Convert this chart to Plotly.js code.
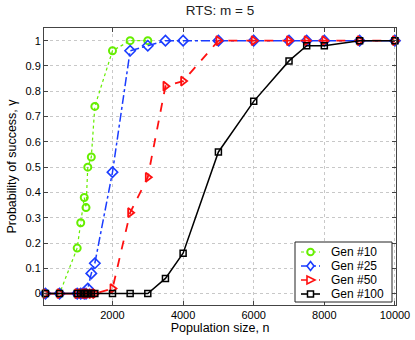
<!DOCTYPE html>
<html>
<head>
<meta charset="utf-8">
<script src="https://cdn.plot.ly/plotly-3.0.1.min.js"></script>
<style>html,body{margin:0;padding:0;background:#fff;}#chart{width:415px;height:340px;}</style>
</head>
<body>
<div id="chart"></div>
<script>
const popSize = [100, 500, 1000, 1100, 1200, 1250, 1300, 1400, 1500, 2000, 2500, 3000, 3500, 4000, 5000, 6000, 7000, 7500, 8000, 9000, 10000];
const gen10Size = [100, 500, 1000, 1100, 1200, 1250, 1300, 1400, 1500, 2000, 2500, 3000];
const gen10 = [0, 0, 0.18, 0.28, 0.38, 0.34, 0.50, 0.54, 0.74, 0.96, 1, 1];
const gen25 = [0, 0, 0, 0, 0, 0, 0.02, 0.08, 0.12, 0.48, 0.96, 0.98, 1, 1, 1, 1, 1, 1, 1, 1, 1];
const gen50 = [0, 0, 0, 0, 0, 0, 0, 0, 0, 0.02, 0.32, 0.46, 0.82, 0.84, 1, 1, 1, 1, 1, 1, 1];
const gen100 = [0, 0, 0, 0, 0, 0, 0, 0, 0, 0, 0, 0, 0.06, 0.16, 0.56, 0.76, 0.92, 0.98, 0.98, 1, 1];
const seriesNames = ['Gen #10', 'Gen #25', 'Gen #50', 'Gen #100'];
const xTicks = [2000, 4000, 6000, 8000, 10000];
const yTicks = [0, 0.1, 0.2, 0.3, 0.4, 0.5, 0.6, 0.7, 0.8, 0.9, 1];
const yTickText = ['0', '0.1', '0.2', '0.3', '0.4', '0.5', '0.6', '0.7', '0.8', '0.9', '1'];

const FONT = 'Liberation Sans, Arial, Helvetica, sans-serif';
const colors = ['#66ee00', '#1a3cff', '#ff1010', '#000000'];
const dashes = ['dot', 'dashdot', 'dash', 'solid'];
const traces = [
  {x: gen10Size, y: gen10, name: seriesNames[0], mode: 'lines+markers',
   line: {color: colors[0], width: 1.2, dash: dashes[0]},
   marker: {symbol: 'circle-open', size: 7, color: colors[0], line: {width: 2}}},
  {x: popSize, y: gen25, name: seriesNames[1], mode: 'lines+markers',
   line: {color: colors[1], width: 1.5, dash: dashes[1]},
   marker: {symbol: 'diamond-open', size: 8, color: colors[1], line: {width: 1.6}}},
  {x: popSize, y: gen50, name: seriesNames[2], mode: 'lines+markers',
   line: {color: colors[2], width: 1.8, dash: dashes[2]},
   marker: {symbol: 'triangle-right-open', size: 8, color: colors[2], line: {width: 1.8}}},
  {x: popSize, y: gen100, name: seriesNames[3], mode: 'lines+markers',
   line: {color: colors[3], width: 1.5, dash: dashes[3]},
   marker: {symbol: 'square-open', size: 6, color: colors[3], line: {width: 1.5}}}
];
traces.forEach(t => { t.cliponaxis = false; t.showlegend = false; });

// Manual legend (MATLAB-like compact box), positioned in pixels of the 415x340 figure
const M = {l: 44, r: 19, t: 28, b: 35};
const PW = 415 - M.l - M.r, PH = 340 - M.t - M.b;
const px = v => (v - M.l) / PW;
const py = v => (340 - M.b - v) / PH;
const shapes = [];
const annotations = [];
shapes.push({type: 'rect', xref: 'paper', yref: 'paper', x0: px(295), x1: px(392), y0: py(302), y1: py(242),
  line: {color: '#222', width: 1}, fillcolor: '#ffffff', layer: 'above'});
const rowY = [252, 266, 280, 294];
seriesNames.forEach((name, i) => {
  const yy = rowY[i];
  shapes.push({type: 'line', xref: 'paper', yref: 'paper', x0: px(301), x1: px(320), y0: py(yy), y1: py(yy),
    line: {color: colors[i], width: i === 0 ? 1.2 : 1.6, dash: dashes[i]}, layer: 'above'});
  const cx = 310.5, r = 3.3;
  let mk;
  if (i === 0) {
    mk = {type: 'circle', x0: px(cx - r), x1: px(cx + r), y0: py(yy + r), y1: py(yy - r), line: {color: colors[i], width: 2}};
  } else if (i === 1) {
    mk = {type: 'path', path: `M ${px(cx)} ${py(yy - 4.5)} L ${px(cx + 3.5)} ${py(yy)} L ${px(cx)} ${py(yy + 4.5)} L ${px(cx - 3.5)} ${py(yy)} Z`, line: {color: colors[i], width: 1.6}};
  } else if (i === 2) {
    mk = {type: 'path', path: `M ${px(cx + 4.5)} ${py(yy)} L ${px(cx - 3.5)} ${py(yy - 4)} L ${px(cx - 3.5)} ${py(yy + 4)} Z`, line: {color: colors[i], width: 1.6}};
  } else {
    mk = {type: 'rect', x0: px(cx - 3), x1: px(cx + 3), y0: py(yy + 3), y1: py(yy - 3), line: {color: colors[i], width: 1.5}};
  }
  Object.assign(mk, {xref: 'paper', yref: 'paper', fillcolor: '#ffffff', layer: 'above'});
  shapes.push(mk);
  annotations.push({xref: 'paper', yref: 'paper', x: px(329), y: py(yy), xanchor: 'left', yanchor: 'middle',
    text: name, showarrow: false, font: {family: FONT, size: 12, color: '#000'}});
});

const layout = {
  width: 415, height: 340,
  margin: M,
  paper_bgcolor: '#ffffff', plot_bgcolor: '#ffffff',
  font: {family: FONT, size: 11, color: '#000'},
  title: {text: 'RTS: m = 5', font: {family: FONT, size: 13.5, color: '#222'}, xref: 'paper', x: 0.5, xanchor: 'center', y: 0.985, yanchor: 'top'},
  xaxis: {
    range: [60, 10030], tickvals: xTicks, ticktext: xTicks.map(String),
    showgrid: true, gridcolor: '#c8c8c8', griddash: 'dot', gridwidth: 1,
    zeroline: false, showline: true, linecolor: '#444', linewidth: 1, mirror: 'ticks',
    ticks: 'inside', ticklen: 4, tickcolor: '#444',
    tickfont: {family: FONT, size: 11},
    title: {text: 'Population size, n', font: {family: FONT, size: 12.5}, standoff: 2}
  },
  yaxis: {
    range: [-0.045, 1.05], tickvals: yTicks, ticktext: yTickText,
    showgrid: true, gridcolor: '#c8c8c8', griddash: 'dot', gridwidth: 1,
    zeroline: false, showline: true, linecolor: '#444', linewidth: 1, mirror: 'ticks',
    ticks: 'inside', ticklen: 4, tickcolor: '#444',
    tickfont: {family: FONT, size: 11},
    title: {text: 'Probability of success, γ', font: {family: FONT, size: 12.5}, standoff: 6}
  },
  shapes: shapes,
  annotations: annotations,
  showlegend: false
};

Plotly.newPlot('chart', traces, layout, {displayModeBar: false, staticPlot: true});
</script>
</body>
</html>
